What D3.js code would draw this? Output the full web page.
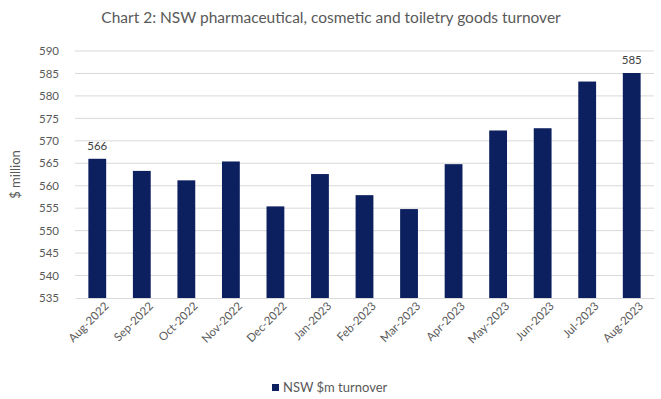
<!DOCTYPE html>
<html><head><meta charset="utf-8">
<script src="https://cdn.jsdelivr.net/npm/d3@7"></script>
<style>body{margin:0;background:#fff}svg{display:block}</style>
</head><body>
<svg id="c" width="661" height="399"></svg>
<script>
const categories = ["Aug-2022","Sep-2022","Oct-2022","Nov-2022","Dec-2022","Jan-2023","Feb-2023","Mar-2023","Apr-2023","May-2023","Jun-2023","Jul-2023","Aug-2023"];
const turnover = [566.0, 563.3, 561.2, 565.4, 555.4, 562.6, 557.9, 554.8, 564.8, 572.3, 572.8, 583.2, 585.1];
const yTicks = [535,540,545,550,555,560,565,570,575,580,585,590];
const labelled = [0, 12];
const title = "Chart 2: NSW pharmaceutical, cosmetic and toiletry goods turnover";
const seriesName = "NSW $m turnover";

const svg = d3.select("#c");
const font = "Lato, 'Open Sans', sans-serif";
const m = {left:75, right:7, top:51, bottom:101};
const W = 661, H = 399;
const x = d3.scaleBand().domain(categories).range([m.left, W - m.right]).paddingInner(0.6).paddingOuter(0.3);
const y = d3.scaleLinear().domain([535, 590]).range([H - m.bottom, m.top]);

svg.append("text").attr("x", 331).attr("y", 23).attr("text-anchor","middle")
  .attr("font-family", font).attr("font-size", 15.5).attr("fill","#595959").text(title);

// gridlines
svg.append("g").selectAll("line").data(yTicks.slice(1)).join("line")
  .attr("x1", m.left).attr("x2", W - m.right)
  .attr("y1", d => y(d)).attr("y2", d => y(d))
  .attr("stroke","#d9d9d9").attr("stroke-width",1);

// y axis labels
const ya = svg.append("g").attr("transform", `translate(${m.left},0)`)
  .call(d3.axisLeft(y).tickValues(yTicks).tickSize(0).tickPadding(16).tickFormat(d => d));
ya.select(".domain").remove();
ya.selectAll("text").attr("font-family", font).attr("font-size", 11.5).attr("fill","#595959");

svg.append("text").attr("transform", `translate(20,${(m.top + H - m.bottom)/2}) rotate(-90)`)
  .attr("text-anchor","middle").attr("font-family", font).attr("font-size", 13).attr("fill","#595959").text("$ million");

// bars
svg.append("g").selectAll("rect").data(turnover).join("rect")
  .attr("x", (d,i) => x(categories[i])).attr("width", x.bandwidth())
  .attr("y", d => y(d)).attr("height", d => y(535) - y(d))
  .attr("fill","#0c1f5f");

// x axis
const xa = svg.append("g").attr("transform", `translate(0,${y(535)})`)
  .call(d3.axisBottom(x).tickSize(0).tickPadding(8));
xa.select(".domain").attr("stroke","#d9d9d9");
xa.selectAll("text").attr("font-family", font).attr("font-size", 11.5).attr("fill","#595959")
  .attr("text-anchor","end").attr("dx", "0.2em").attr("dy","0.6em")
  .attr("transform","rotate(-45)");

// data labels
svg.append("g").selectAll("text").data(labelled).join("text")
  .attr("x", i => x(categories[i]) + x.bandwidth()/2)
  .attr("y", i => y(turnover[i]) - 9)
  .attr("text-anchor","middle").attr("font-family", font).attr("font-size", 11.5).attr("fill","#404040")
  .text(i => Math.round(turnover[i]));

// legend
const lg = svg.append("g").attr("transform","translate(272,388)");
lg.append("rect").attr("x",0).attr("y",-4).attr("width",7).attr("height",7).attr("fill","#0c1f5f");
lg.append("text").attr("x",11).attr("y",4).attr("font-family", font).attr("font-size", 13).attr("fill","#595959").text(seriesName);
</script>
</body></html>
